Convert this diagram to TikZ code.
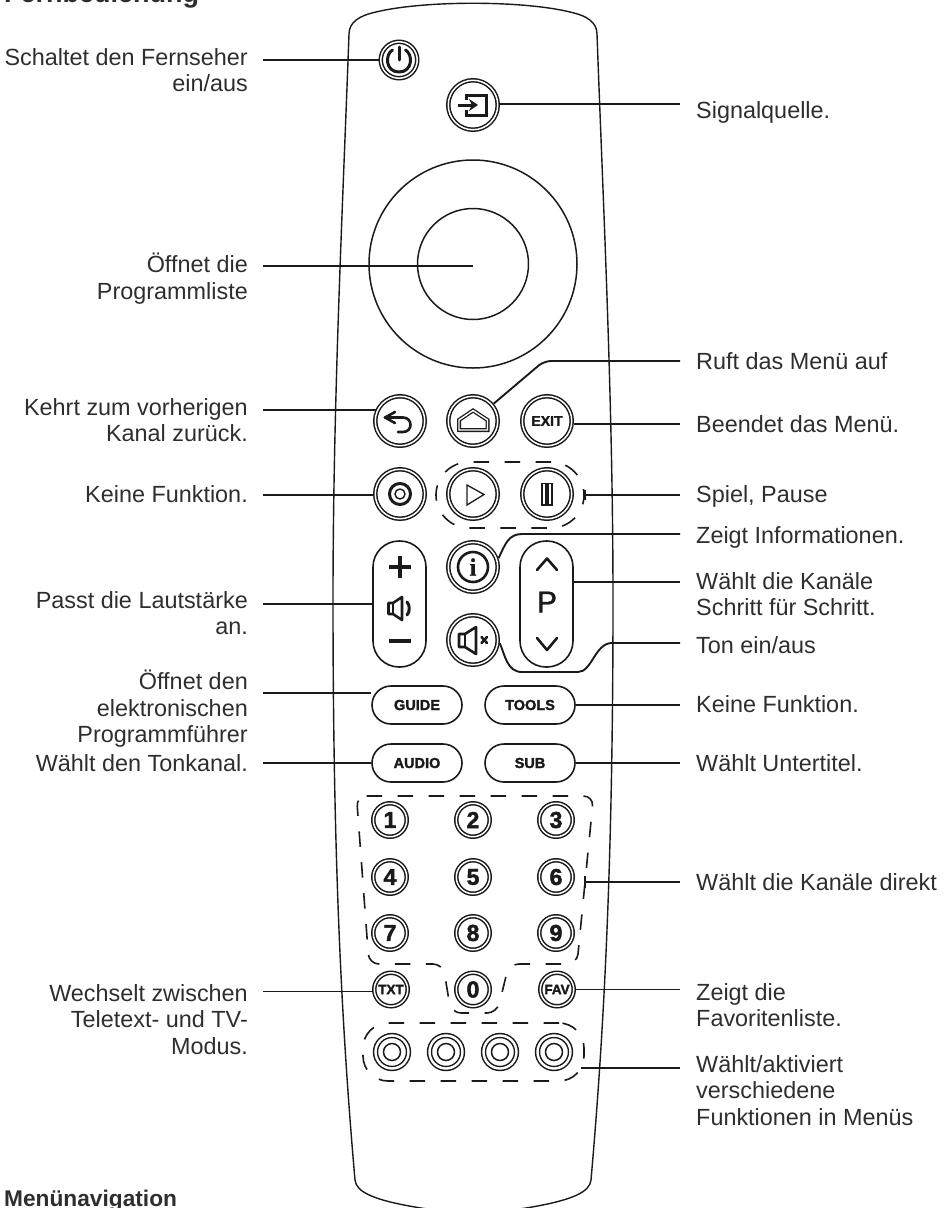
\documentclass[tikz,border=0pt]{standalone}
\usepackage{fontspec}
\setmainfont{Liberation Sans}
\newfontfamily\keyfont[UprightFont=* Bold,FakeBold=2]{Liberation Sans}
\newfontfamily\progfont[FakeBold=1.2]{Liberation Sans}
\newfontfamily\infofont[UprightFont=* Bold,FakeBold=1]{Liberation Serif}
\usepackage{tikz}
\usetikzlibrary{arrows.meta,shapes.geometric}
\usepackage{xcolor}
\definecolor{labtext}{HTML}{2E2E2E}
\definecolor{inkline}{HTML}{1A1A1A}
\tikzset{
  >=Stealth,
  shell/.style={draw=inkline,line width=1.4pt},
  lead/.style={draw=inkline,line width=1.9pt},
  ico/.style={draw=inkline,line width=2.6pt,line cap=round,line join=round},
  icothin/.style={draw=inkline,line width=1.3pt,line join=miter},
  grp/.style={draw=inkline,line width=1.6pt,dash pattern=on 15.5pt off 15.5pt},
  keybase/.style={circle,draw=inkline,line width=1.5pt,double,double distance=1.5pt,
                  inner sep=0pt,outer sep=2.25pt,text=inkline},
  bigkey/.style={keybase,minimum size=49.5pt,font=\fontsize{14}{14}\keyfont},
  pwrkey/.style={keybase,minimum size=36.5pt},
  numkey/.style={keybase,minimum size=33.5pt,font=\fontsize{23}{23}\keyfont},
  smallkey/.style={keybase,minimum size=33.5pt,font=\fontsize{13.5}{13.5}\keyfont},
  colkey/.style={keybase,minimum size=33pt,double distance=2.4pt,outer sep=2.5pt},
  colcore/.style={circle,draw=inkline,line width=1.5pt,minimum size=17pt,inner sep=0pt},
  ringkey/.style={circle,draw=inkline,line width=1.5pt,inner sep=0pt},
  pill/.style={rectangle,draw=inkline,line width=1.6pt,rounded corners=19pt,
               minimum width=90pt,minimum height=38pt,inner sep=0pt,text=inkline,
               font=\fontsize{14.5}{14.5}\keyfont},
  longpill/.style={rectangle,draw=inkline,line width=1.6pt,rounded corners=26pt,
                   minimum width=53pt,minimum height=126pt,inner sep=0pt},
  labl/.style={anchor=north east,align=right,inner xsep=15pt,inner ysep=0pt,text=labtext,
               font=\fontsize{23.4}{26.5}\selectfont,execute at begin node=\rule{0pt}{18pt}},
  labr/.style={anchor=north west,align=left,inner xsep=16pt,inner ysep=0pt,text=labtext,
               font=\fontsize{23.4}{26.5}\selectfont,execute at begin node=\rule{0pt}{18pt}},
  head/.style={anchor=base west,inner sep=0pt,text=labtext,font=\fontsize{27}{27}\selectfont\bfseries},
}
\begin{document}
\begin{tikzpicture}[x=1pt,y=-1pt]
  \useasboundingbox (0,0) rectangle (952,1208);
  \clip (0,0) rectangle (952,1208);

  \node[head] (hRemote) at (4,2) {Fernbedienung};
  \node[head,font=\fontsize{22.7}{22.7}\selectfont\bfseries] (hMenu) at (4,1206) {Menünavigation};

  \draw[shell] (349,34) .. controls (349,22) and (360,16) .. (372,13)
    .. controls (420,0) and (526,0) .. (574,13)
    .. controls (586,16) and (597,22) .. (597,34)
    .. controls (603,200) and (613,400) .. (613,600)
    .. controls (613,850) and (605,1020) .. (591,1180)
    .. controls (590,1192) and (572,1200) .. (532,1207)
    .. controls (500,1213) and (446,1213) .. (415,1207)
    .. controls (374,1200) and (356,1192) .. (355,1180)
    .. controls (341,1020) and (333,850) .. (333,600)
    .. controls (333,400) and (343,200) .. (349,34) -- cycle;

  \node[pwrkey]  (bPower)  at (399,60)  {};
  \node[bigkey]  (bSource) at (473,105) {};
  \node[ringkey,minimum size=208pt] (bRing) at (473,264) {};
  \node[ringkey,minimum size=111pt] (bOk)   at (473,264) {};
  \node[bigkey]  (bBack)   at (400,421) {};
  \node[bigkey]  (bHome)   at (473,421) {};
  \node[bigkey]  (bExit)   at (547,421) {EXIT};
  \node[bigkey]  (bRec)    at (400,494) {};
  \node[bigkey]  (bPlay)   at (473,494) {};
  \node[bigkey]  (bPause)  at (547,494) {};
  \node[bigkey]  (bInfo)   at (473,567) {};
  \node[bigkey]  (bMute)   at (473,640) {};
  \node[longpill] (bVol)   at (399.5,604) {};
  \node[longpill] (bProg)  at (546.5,604) {};
  \node[pill] (bGuide) at (417,705) {GUIDE};
  \node[pill] (bTools) at (530,705) {TOOLS};
  \node[pill] (bAudio) at (417,763) {AUDIO};
  \node[pill] (bSub)   at (530,763) {SUB};
  \node[numkey] (b1) at (390,820) {1};
  \node[numkey] (b2) at (473,820) {2};
  \node[numkey] (b3) at (556,820) {3};
  \node[numkey] (b4) at (390,877) {4};
  \node[numkey] (b5) at (473,877) {5};
  \node[numkey] (b6) at (556,877) {6};
  \node[numkey] (b7) at (390,933) {7};
  \node[numkey] (b8) at (473,933) {8};
  \node[numkey] (b9) at (556,933) {9};
  \node[numkey] (b0) at (473,989.5) {0};
  \node[smallkey] (bTxt) at (391,989.5) {TXT};
  \node[smallkey] (bFav) at (557,989.5) {FAV};
  \node[colkey] (bRed)    at (392,1052) {};
  \node[colkey] (bGreen)  at (446,1052) {};
  \node[colkey] (bYellow) at (500,1052) {};
  \node[colkey] (bBlue)   at (554,1052) {};
  \node[colcore] (cRed)    at (bRed)    {};
  \node[colcore] (cGreen)  at (bGreen)  {};
  \node[colcore] (cYellow) at (bYellow) {};
  \node[colcore] (cBlue)   at (bBlue)   {};

  \node[grp,rectangle,rounded corners=33pt,minimum width=148pt,minimum height=66pt] (gPlay) at (510,495) {};
  \node[grp,rectangle,rounded corners=25pt,minimum width=221pt,minimum height=58pt] (gCol) at (473.5,1052) {};
  \draw[grp,rounded corners=10pt] (356.5,796) -- (593.5,796) -- (577,964) -- (509,964) -- (497,1013)
    -- (451,1013) -- (443,964) -- (369,964) -- cycle;
  \coordinate (gNum) at (585,882);

  \draw[ico,line width=3pt] (399,47) -- (399,60);
  \draw[ico,line width=3pt] (392.5,50) .. controls (385,54) and (385,72) .. (399,72) .. controls (413,72) and (413,54) .. (405.5,50);
  \draw[ico,line width=3pt,line cap=butt,line join=miter] (466,100) -- (466,95) -- (486,95) -- (486,115) -- (466,115) -- (466,110);
  \draw[ico,line width=3pt,line cap=butt,-{Stealth[length=9pt,width=12pt]}] (458,105) -- (478,105);
  \draw[ico] (395,412) -- (385,417.5) -- (395,423);
  \draw[ico] (385,417.5) -- (403,417.5) .. controls (413,417.5) and (413,432) .. (403,432) -- (398,432);
  \draw[icothin,double,double distance=1.4pt,line width=1.3pt] (459,420) -- (473,410.5) -- (487.5,420) -- (487.5,430) -- (459,430) -- cycle;
  \node[circle,draw=inkline,line width=3pt,minimum size=21pt,inner sep=0pt] (iRec) at (400,494) {};
  \node[circle,draw=inkline,line width=1.4pt,minimum size=10pt,inner sep=0pt] (iRecIn) at (400,494) {};
  \draw[icothin] (467,485) -- (484,494.5) -- (467,505) -- cycle;
  \draw[icothin] (542,483.5) rectangle (546,505);
  \draw[icothin] (548,483.5) rectangle (552,505);
  \node[circle,draw=inkline,line width=2.6pt,minimum size=30pt,inner sep=0pt,text=inkline,
        font=\fontsize{25}{25}\infofont] (iInfo) at (473,567) {i};
  \draw[ico,line width=3.2pt,line cap=butt] (389,567) -- (411,567);
  \draw[ico,line width=3.2pt,line cap=butt] (400,556) -- (400,578);
  \draw[ico,line width=3.2pt,line cap=butt] (389,641) -- (411,641);
  \draw[ico] (388.5,603) -- (393,603) -- (402,597) -- (402,620) -- (393,614) -- (388.5,614) -- cycle;
  \draw[ico] (393,603) -- (393,614);
  \draw[ico,line width=3pt] (407,602) .. controls (410,605) and (410,612) .. (407,615);
  \draw[ico] (459,634) -- (465,634) -- (476,627) -- (476,654) -- (465,647) -- (459,647) -- cycle;
  \draw[ico] (465,634) -- (465,647);
  \draw[ico] (481.5,637) -- (487,643);
  \draw[ico] (487,637) -- (481.5,643);
  \draw[ico] (537,570) -- (547,558.5) -- (557,570);
  \draw[ico] (537,638) -- (547,650) -- (557,638);
  \node[text=inkline,font=\fontsize{30}{30}\progfont,inner sep=0pt] (iProg) at (547,602) {P};

  \node[labl] (lPower) at (263,48)  {Schaltet den Fernseher\\ein/aus};
  \node[labl] (lOk)    at (263,253) {Öffnet die\\Programmliste};
  \node[labl] (lBack)  at (263,398) {Kehrt zum vorherigen\\Kanal zurück.};
  \node[labl] (lRec)   at (263,484) {Keine Funktion.};
  \node[labl] (lVol)   at (263,591) {Passt die Lautstärke\\an.};
  \node[labl] (lGuide) at (263,670) {Öffnet den\\elektronischen\\Programmführer};
  \node[labl] (lAudio) at (263,753) {Wählt den Tonkanal.};
  \node[labl] (lTxt)   at (263,984) {Wechselt zwischen\\Teletext- und TV-\\Modus.};

  \node[labr] (lSource) at (680,100)  {Signalquelle.};
  \node[labr] (lMenu)   at (680,351)  {Ruft das Menü auf};
  \node[labr] (lExit)   at (680,414)  {Beendet das Menü.};
  \node[labr] (lPlay)   at (680,484)  {Spiel, Pause};
  \node[labr] (lInfo)   at (680,525)  {Zeigt Informationen.};
  \node[labr] (lProg)   at (680,572)  {Wählt die Kanäle\\Schritt für Schritt.};
  \node[labr] (lMute)   at (680,635)  {Ton ein/aus};
  \node[labr] (lTools)  at (680,694)  {Keine Funktion.};
  \node[labr] (lSub)    at (680,753)  {Wählt Untertitel.};
  \node[labr] (lNum)    at (680,872)  {Wählt die Kanäle direkt};
  \node[labr] (lFav)    at (680,983)  {Zeigt die\\Favoritenliste.};
  \node[labr] (lCol)    at (680,1055) {Wählt/aktiviert\\verschiedene\\Funktionen in Menüs};

  \draw[lead] (lPower.east |- bPower.west) -- (bPower.west);
  \draw[lead] (lOk.east |- 473,266) -- (473,266);
  \draw[lead] (lBack.east |- bBack.155) -- (bBack.155);
  \draw[lead] (lRec.east |- bRec.183) -- (bRec.183);
  \draw[lead] (lVol.east |- bVol.west) -- (bVol.west);
  \draw[lead] (lGuide.east |- bGuide.165) -- (bGuide.165);
  \draw[lead] (lAudio.east |- bAudio.west) -- (bAudio.west);
  \draw[lead] (lTxt.east |- bTxt.186) -- (bTxt.186);

  \draw[lead] (bSource.2) -- (lSource.west |- bSource.2);
  \draw[lead,rounded corners=7pt] (bHome.40) -- (544,361) -- (lMenu.west |- 544,361);
  \draw[lead] (bExit.-7) -- (lExit.west |- bExit.-7);
  \draw[lead] (gPlay.east) -- (lPlay.west |- gPlay.east);
  \draw[lead] ([yshift=-5pt]gPlay.east) -- ([yshift=5pt]gPlay.east);
  \draw[lead] (bInfo.19) .. controls (505,545) and (508,534) .. (522,534) -- (lInfo.west |- 522,534);
  \draw[lead] (bProg.east |- 0,582) -- (lProg.west |- 0,582);
  \draw[lead] (bMute.-7) .. controls (505,655) and (507,672) .. (522,672) -- (578,672)
    .. controls (592,672) and (595,643) .. (612,643) -- (lMute.west |- 612,643);
  \draw[lead] (bTools.east) -- (lTools.west |- bTools.east);
  \draw[lead] (bSub.east) -- (lSub.west |- bSub.east);
  \draw[lead] (gNum) -- (lNum.west |- gNum);
  \draw[lead] ([yshift=-6pt]gNum) -- ([yshift=6pt]gNum);
  \draw[lead] (bFav.east) -- (lFav.west |- bFav.east);
  \draw[lead] ([xshift=-4pt]gCol.-8) -- (lCol.west |- gCol.-8);
\end{tikzpicture}
\end{document}
